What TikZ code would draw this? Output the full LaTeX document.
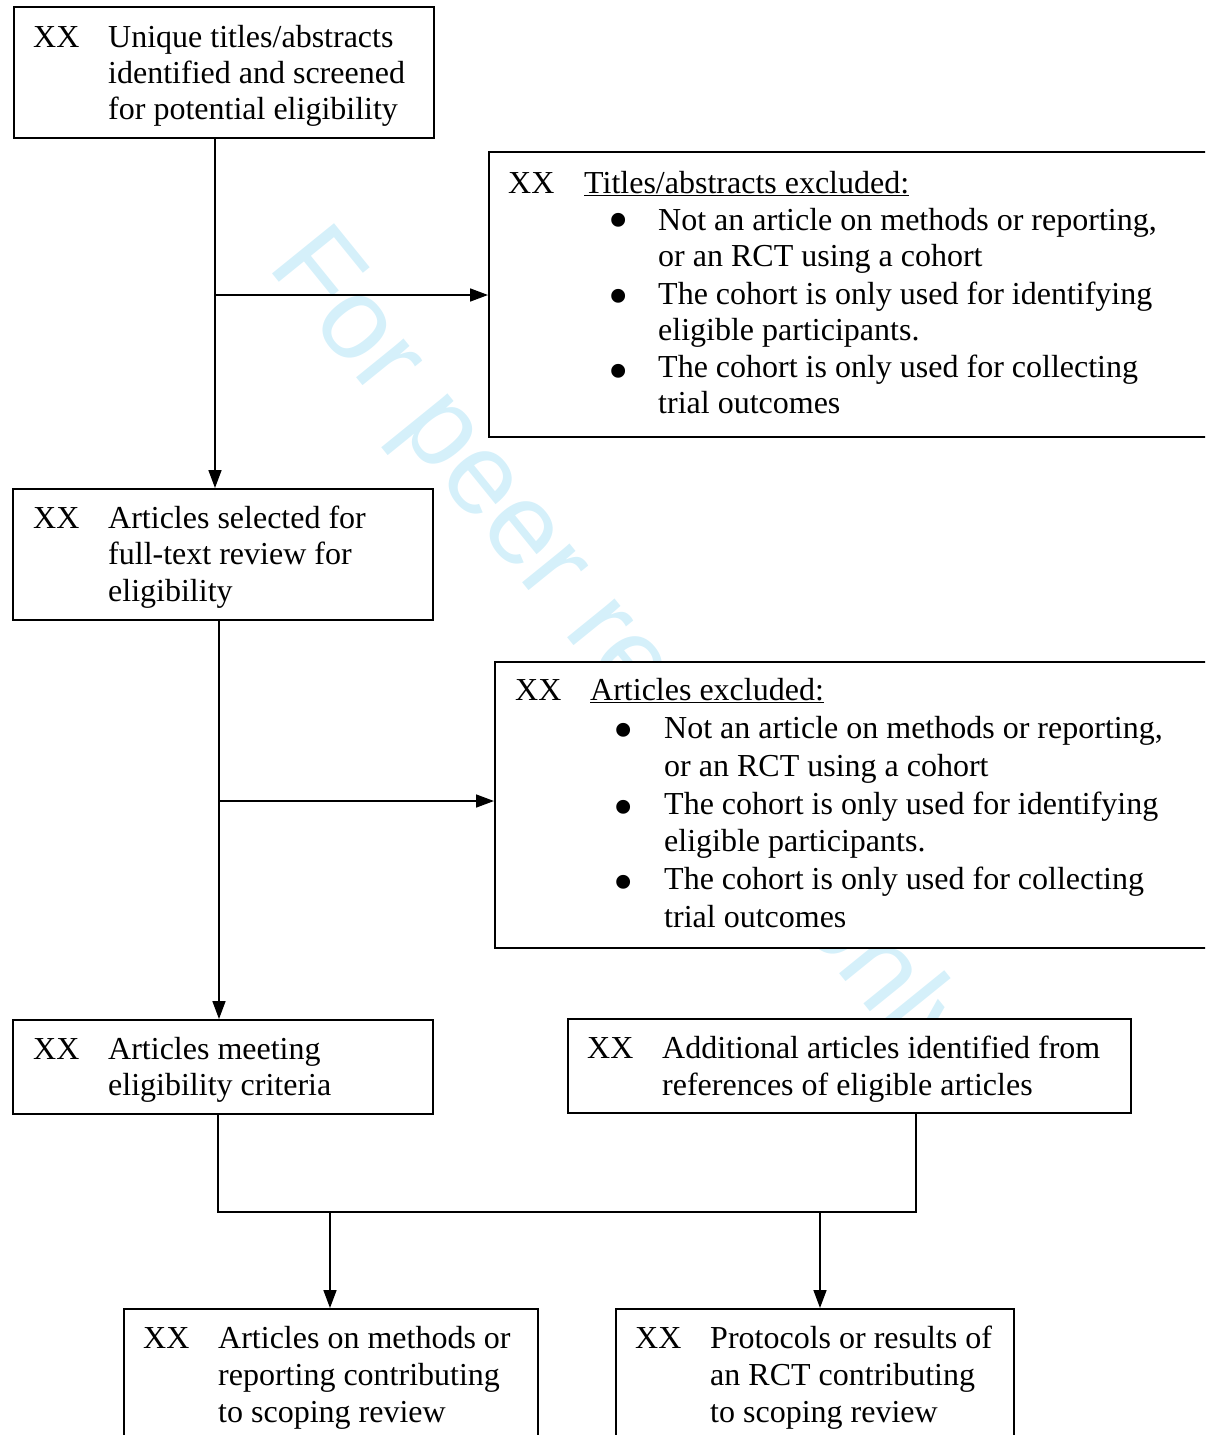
\documentclass[tikz,border=0pt]{standalone}
\usepackage{fontspec}
\setmainfont{Liberation Serif}
\newfontfamily\wmfont{Liberation Sans}
\usetikzlibrary{arrows.meta}
\definecolor{wmcol}{RGB}{213,240,250}
\begin{document}
\begin{tikzpicture}[x=1pt,y=-1pt,
  box/.style={draw,line width=1.6pt,fill=white,inner sep=0pt,anchor=north west},
  t/.style={anchor=base west,inner sep=0pt,text height=23pt,text depth=7pt,font=\fontsize{32}{37}\selectfont},
  bul/.style={anchor=base,inner sep=0pt,text height=16pt,text depth=0pt,font=\fontsize{58}{58}\selectfont},
  ln/.style={line width=1.6pt},
  arr/.style={line width=1.6pt,-{Triangle[length=18pt,width=13pt]}}]
\useasboundingbox (0,0) rectangle (1205,1435);
\clip (0,0) rectangle (1205,1435);
% watermark
\node[font=\wmfont\fontsize{116}{116}\selectfont,text=wmcol,rotate=-51,anchor=base west,inner sep=0pt] (wm) at (266,266) {For peer review only};
% boxes
\node[box,minimum width=420pt,minimum height=131pt] (b1) at (13,6) {};
\node[box,minimum width=730pt,minimum height=285pt] (b2) at (488,151) {};
\node[box,minimum width=420pt,minimum height=131pt] (b3) at (12,488) {};
\node[box,minimum width=725pt,minimum height=286pt] (b4) at (494,661) {};
\node[box,minimum width=420pt,minimum height=94pt] (b5) at (12,1019) {};
\node[box,minimum width=563pt,minimum height=94pt] (b6) at (567,1018) {};
\node[box,minimum width=414pt,minimum height=140pt] (b7) at (123,1308) {};
\node[box,minimum width=398pt,minimum height=140pt] (b8) at (615,1308) {};
% box 1
\node[t] (b1x) at (33,47) {XX};
\node[t] (b1a) at (108,47) {Unique titles/abstracts};
\node[t] (b1b) at (108,83) {identified and screened};
\node[t] (b1c) at (108,119) {for potential eligibility};
% box 2
\node[t] (b2x) at (508,193) {XX};
\node[t] (b2h) at (584,193) {\underline{Titles/abstracts excluded:}};
\node[bul] (b2p1) at (619,239) {•};
\node[t] (b2a) at (658,230) {Not an article on methods or reporting,};
\node[t] (b2b) at (658,266) {or an RCT using a cohort};
\node[bul] (b2p2) at (619,315) {•};
\node[t] (b2c) at (658,304) {The cohort is only used for identifying};
\node[t] (b2d) at (658,340) {eligible participants.};
\node[bul] (b2p3) at (619,390) {•};
\node[t] (b2e) at (658,377) {The cohort is only used for collecting};
\node[t] (b2f) at (658,413) {trial outcomes};
% box 3
\node[t] (b3x) at (33,528) {XX};
\node[t] (b3a) at (108,528) {Articles selected for};
\node[t] (b3b) at (108,564) {full-text review for};
\node[t] (b3c) at (108,601) {eligibility};
% box 4
\node[t] (b4x) at (515,700) {XX};
\node[t] (b4h) at (590,700) {\underline{Articles excluded:}};
\node[bul] (b4p1) at (624,749) {•};
\node[t] (b4a) at (664,738) {Not an article on methods or reporting,};
\node[t] (b4b) at (664,776) {or an RCT using a cohort};
\node[bul] (b4p2) at (624,826) {•};
\node[t] (b4c) at (664,814) {The cohort is only used for identifying};
\node[t] (b4d) at (664,851) {eligible participants.};
\node[bul] (b4p3) at (624,901) {•};
\node[t] (b4e) at (664,889) {The cohort is only used for collecting};
\node[t] (b4f) at (664,927) {trial outcomes};
% box 5
\node[t] (b5x) at (33,1059) {XX};
\node[t] (b5a) at (108,1059) {Articles meeting};
\node[t] (b5b) at (108,1095) {eligibility criteria};
% box 6
\node[t] (b6x) at (587,1058) {XX};
\node[t] (b6a) at (662,1058) {Additional articles identified from};
\node[t] (b6b) at (662,1095) {references of eligible articles};
% box 7
\node[t] (b7x) at (143,1348) {XX};
\node[t] (b7a) at (218,1348) {Articles on methods or};
\node[t] (b7b) at (218,1385) {reporting contributing};
\node[t] (b7c) at (218,1422) {to scoping review};
% box 8
\node[t] (b8x) at (635,1348) {XX};
\node[t] (b8a) at (710,1348) {Protocols or results of};
\node[t] (b8b) at (710,1385) {an RCT contributing};
\node[t] (b8c) at (710,1422) {to scoping review};
% connectors
\coordinate (c1) at (215,295);
\draw[arr] (b1.south -| c1) -- (b3.north -| c1);
\draw[arr] (c1) -- (b2.west |- c1);
\coordinate (c2) at (219,801);
\draw[arr] (b3.south -| c2) -- (b5.north -| c2);
\draw[arr] (c2) -- (b4.west |- c2);
\coordinate (j1) at (218,1212);
\coordinate (j2) at (916,1212);
\draw[ln] (b5.south -| j1) -- (j1) -- (j2) -- (b6.south -| j2);
\coordinate (a1) at (330,1212);
\coordinate (a2) at (820,1212);
\draw[arr] (a1) -- (b7.north -| a1);
\draw[arr] (a2) -- (b8.north -| a2);
\end{tikzpicture}
\end{document}
